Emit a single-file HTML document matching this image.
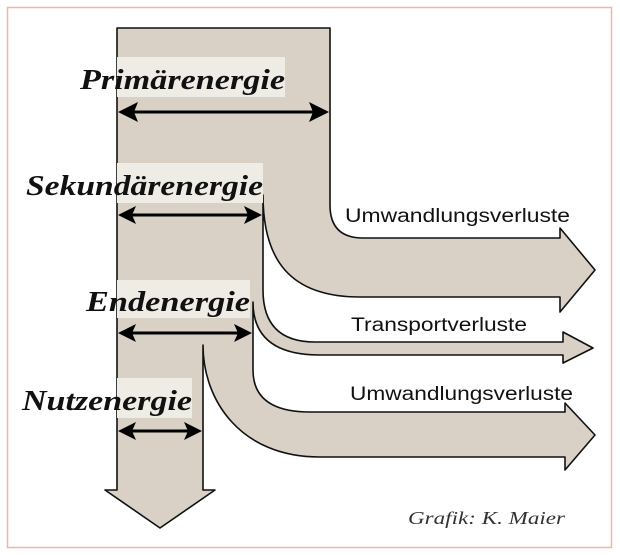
<!DOCTYPE html>
<html><head><style>
html,body{margin:0;padding:0;background:#fff;}
svg{display:block;}
.lab{font-family:"Liberation Serif",serif;font-weight:bold;font-style:italic;font-size:28px;fill:#111;}
.s{font-family:"Liberation Sans",sans-serif;font-size:19px;fill:#111;}
</style></head><body>
<svg width="620" height="555" viewBox="0 0 620 555">
<rect x="7.5" y="7.5" width="604" height="540" fill="#fff" stroke="#f0b6a4" stroke-width="1.5"/>
<path d="M117,28 L330,28 L330,205 Q330,238 363,238 L560,238 L560,228 L595,270 L560,312 L560,297 L360,297 C290,297 263,260 263,195
L263,290 Q263,342 315,342 L563,342 L563,332 L593,348 L563,363 L563,355 L320,355 Q253,355 253,302
L253,370 Q253,412 310,412 L565,412 L565,403 L595,435 L565,470 L565,457 L320,457 C240,457 203,400 203,345
L203,490 L215,490 L160,528 L105,490 L117,490 Z" fill="#d9d1c5" stroke="#111" stroke-width="1.6" stroke-linejoin="round"/>
<g fill="#efebe5">
<rect x="117" y="57" width="168" height="40"/>
<rect x="117" y="163" width="146" height="40"/>
<rect x="117" y="280" width="133" height="38"/>
<rect x="117" y="378" width="75" height="40"/>
</g>
<text class="lab" x="80" y="89" textLength="205" lengthAdjust="spacingAndGlyphs">Primärenergie</text>
<text class="lab" x="26" y="195" textLength="237" lengthAdjust="spacingAndGlyphs">Sekundärenergie</text>
<text class="lab" x="86" y="311" textLength="164" lengthAdjust="spacingAndGlyphs">Endenergie</text>
<text class="lab" x="22" y="410" textLength="170" lengthAdjust="spacingAndGlyphs">Nutzenergie</text>
<g stroke="#000" stroke-width="3">
<line x1="130" y1="112" x2="317" y2="112"/>
<line x1="130" y1="215" x2="250" y2="215"/>
<line x1="130" y1="333" x2="240" y2="333"/>
<line x1="130" y1="431" x2="190" y2="431"/>
</g>
<g fill="#000">
<path d="M118,112 L138,102 L134,112 L138,122Z"/><path d="M329,112 L309,102 L313,112 L309,122Z"/>
<path d="M118,215 L136,206 L132,215 L136,224Z"/><path d="M262,215 L244,206 L248,215 L244,224Z"/>
<path d="M118,333 L136,324 L132,333 L136,342Z"/><path d="M252,333 L234,324 L238,333 L234,342Z"/>
<path d="M118,431 L136,422 L132,431 L136,440Z"/><path d="M202,431 L184,422 L188,431 L184,440Z"/>
</g>
<text class="s" x="345" y="222" textLength="225" lengthAdjust="spacingAndGlyphs">Umwandlungsverluste</text>
<text class="s" x="351" y="331" textLength="176" lengthAdjust="spacingAndGlyphs">Transportverluste</text>
<text class="s" x="350" y="400" textLength="223" lengthAdjust="spacingAndGlyphs">Umwandlungsverluste</text>
<text x="408" y="524" font-family="Liberation Serif,serif" font-style="italic" font-size="18" fill="#333" textLength="157" lengthAdjust="spacingAndGlyphs">Grafik: K. Maier</text>
</svg>
</body></html>
